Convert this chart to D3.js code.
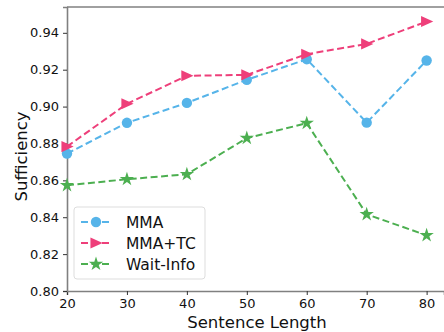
<!DOCTYPE html>
<html>
<head>
<meta charset="utf-8">
<script src="https://cdn.jsdelivr.net/npm/d3@7"></script>
<style>
  body { margin: 0; background: #fff; }
  text { font-family: "DejaVu Sans", sans-serif; }
</style>
</head>
<body>
<div id="chart"></div>
<script>
var lengths = [20, 30, 40, 50, 60, 70, 80];
var mma = [0.8745, 0.8912, 0.9020, 0.9145, 0.9257, 0.8913, 0.9250];
var mmaTc = [0.8783, 0.9015, 0.9167, 0.9172, 0.9284, 0.9340, 0.9461];
var waitInfo = [0.8573, 0.8606, 0.8633, 0.8829, 0.8910, 0.8416, 0.8302];
var xTicks = [20, 30, 40, 50, 60, 70, 80];
var yTicks = [0.80, 0.82, 0.84, 0.86, 0.88, 0.90, 0.92, 0.94];

var series = [
  {name: "MMA", values: mma, color: "#56B4E9", marker: "circle"},
  {name: "MMA+TC", values: mmaTc, color: "#EE3F7A", marker: "triangle"},
  {name: "Wait-Info", values: waitInfo, color: "#4CAF50", marker: "star"}
];

var total_width = 444, total_height = 332;
var margin = {top: 7, right: 0, bottom: 41, left: 67},
    width = total_width - margin.left - margin.right,
    height = total_height - margin.top - margin.bottom;

var svg = d3.select("#chart").append("svg")
    .attr("width", total_width)
    .attr("height", total_height)
  .append("g")
    .attr("transform", "translate(" + margin.left + "," + margin.top + ")");

var x = d3.scaleLinear().domain([20, 82.9]).range([0, width]);
var y = d3.scaleLinear().domain([0.80, 0.954]).range([height, 0]);

// axes
var xAxis = svg.append("g")
    .attr("transform", "translate(0," + height + ")")
    .call(d3.axisBottom(x).tickValues(xTicks).tickSize(4).tickPadding(4).tickFormat(d3.format("d")));
var yAxis = svg.append("g")
    .call(d3.axisLeft(y).tickValues(yTicks).tickSize(4).tickPadding(4).tickFormat(d3.format(".2f")));

[xAxis, yAxis].forEach(function(a) {
  a.select(".domain").attr("stroke", "#808080").attr("stroke-width", 1.6);
  a.selectAll(".tick line").attr("stroke", "#333").attr("stroke-width", 1);
  a.selectAll(".tick text").attr("fill", "#111").style("font-size", "13px")
    .style("font-family", "DejaVu Sans, sans-serif");
});

// top spine
svg.append("line")
    .attr("x1", 0).attr("x2", width)
    .attr("y1", 0).attr("y2", 0)
    .attr("stroke", "#808080").attr("stroke-width", 1.6);

// axis titles (centred on the full axes, which run past the right edge)
svg.append("text")
    .attr("x", 190)
    .attr("y", height + 37)
    .attr("text-anchor", "middle")
    .style("font-size", "16.5px")
    .attr("fill", "#111")
    .text("Sentence Length");

svg.append("text")
    .attr("transform", "rotate(-90)")
    .attr("x", -y(0.873))
    .attr("y", -40)
    .attr("text-anchor", "middle")
    .style("font-size", "16.5px")
    .attr("fill", "#111")
    .text("Sufficiency");

function markerPath(type, size) {
  if (type === "circle") return d3.symbol().type(d3.symbolCircle).size(size)();
  if (type === "star") return d3.symbol().type(d3.symbolStar).size(size * 0.75)();
  // right-pointing triangle
  var s = Math.sqrt(size) * 0.6;
  return "M" + (-s) + "," + (-s) + "L" + (s * 1.2) + ",0L" + (-s) + "," + s + "Z";
}

var line = d3.line()
    .x(function(d, i) { return x(lengths[i]); })
    .y(function(d) { return y(d); });

series.forEach(function(s) {
  svg.append("path")
      .datum(s.values)
      .attr("fill", "none")
      .attr("stroke", s.color)
      .attr("stroke-width", 2)
      .attr("stroke-dasharray", "7,3.5")
      .attr("d", line);

  svg.append("g")
    .selectAll("path")
    .data(s.values)
    .enter()
    .append("path")
      .attr("transform", function(d, i) { return "translate(" + x(lengths[i]) + "," + y(d) + ")"; })
      .attr("d", markerPath(s.marker, 85))
      .attr("fill", s.color);
});

// legend
var legend = svg.append("g")
    .attr("transform", "translate(7,200)");
legend.append("rect")
    .attr("width", 131)
    .attr("height", 72)
    .attr("rx", 3)
    .attr("fill", "#fff")
    .attr("fill-opacity", 0.8)
    .attr("stroke", "#ddd");

series.forEach(function(s, i) {
  var row = legend.append("g")
      .attr("transform", "translate(0," + (15 + i * 21) + ")");
  row.append("line")
      .attr("x1", 7).attr("x2", 37)
      .attr("stroke", s.color)
      .attr("stroke-width", 2)
      .attr("stroke-dasharray", "7,3.5");
  row.append("path")
      .attr("transform", "translate(22,0)")
      .attr("d", markerPath(s.marker, 85))
      .attr("fill", s.color);
  row.append("text")
      .attr("x", 52)
      .attr("y", 5.5)
      .style("font-size", "15.5px")
      .attr("fill", "#111")
      .text(s.name);
});
</script>
</body>
</html>
